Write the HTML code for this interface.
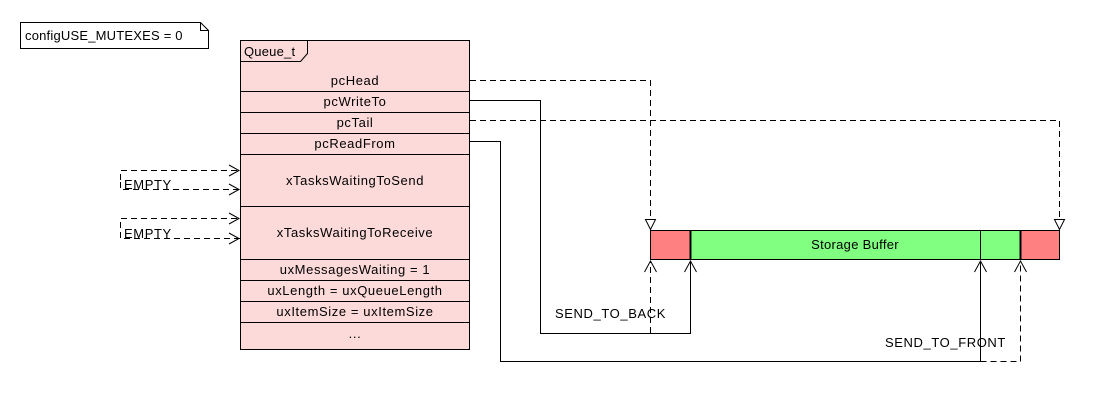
<!DOCTYPE html>
<html><head><style>
body{margin:0;background:#fff}
svg text{font-family:"Liberation Sans",sans-serif;font-size:13px;letter-spacing:0.6px;fill:#000}
</style></head><body>
<svg width="1100" height="400" xmlns="http://www.w3.org/2000/svg">
<rect width="1100" height="400" fill="#fff"/>
<path d="M20.5 22.5 H200.5 L208.5 30.5 V48.5 H20.5 Z" fill="#fff" stroke="#000"/>
<path d="M200.5 22.5 V30.5 H208.5" fill="none" stroke="#000"/>
<text x="25" y="40" style="letter-spacing:0.2px">configUSE_MUTEXES = 0</text>
<rect x="240.5" y="40.5" width="229" height="309" fill="#fddada" stroke="#000"/>
<path d="M240.5 61.5 H300.5 L307.5 53.5 V40.5" fill="none" stroke="#000"/>
<text x="244" y="56" style="letter-spacing:0.2px">Queue_t</text>
<g stroke="#000">
<line x1="240" y1="91.5" x2="470" y2="91.5"/>
<line x1="240" y1="112.5" x2="470" y2="112.5"/>
<line x1="240" y1="133.5" x2="470" y2="133.5"/>
<line x1="240" y1="154.5" x2="470" y2="154.5"/>
<line x1="240" y1="206.5" x2="470" y2="206.5"/>
<line x1="240" y1="259.5" x2="470" y2="259.5"/>
<line x1="240" y1="280.5" x2="470" y2="280.5"/>
<line x1="240" y1="301.5" x2="470" y2="301.5"/>
<line x1="240" y1="322.5" x2="470" y2="322.5"/>
</g>
<g text-anchor="middle" style="letter-spacing:0.3px">
<text x="355" y="85">pcHead</text>
<text x="355" y="106">pcWriteTo</text>
<text x="355" y="127">pcTail</text>
<text x="355" y="148">pcReadFrom</text>
<text x="355" y="185">xTasksWaitingToSend</text>
<text x="355" y="237">xTasksWaitingToReceive</text>
<text x="355" y="274">uxMessagesWaiting = 1</text>
<text x="355" y="295">uxLength = uxQueueLength</text>
<text x="355" y="316">uxItemSize = uxItemSize</text>
<text x="355" y="338">...</text>
</g>
<rect x="650.5" y="230.5" width="40" height="29" fill="#ff8080" stroke="#000"/>
<rect x="690.5" y="230.5" width="330" height="29" fill="#80ff80" stroke="#000"/>
<rect x="1020.5" y="230.5" width="39" height="29" fill="#ff8080" stroke="#000"/>
<line x1="690.5" y1="230" x2="690.5" y2="260" stroke="#000" stroke-width="2"/>
<line x1="1020.5" y1="230" x2="1020.5" y2="260" stroke="#000" stroke-width="2"/>
<line x1="980.5" y1="230" x2="980.5" y2="260" stroke="#000"/>
<text x="855" y="249" text-anchor="middle" style="letter-spacing:0.3px">Storage Buffer</text>
<g fill="none" stroke="#000">
<path d="M470 80.5 H650.5 V220" stroke-dasharray="6,4"/>
<path d="M645.5 219.5 L650.5 229.5 L655.5 219.5 Z" fill="#fff"/>
<path d="M470 120.5 H1059.5 V220" stroke-dasharray="6,4"/>
<path d="M1054.5 219.5 L1059.5 229.5 L1064.5 219.5 Z" fill="#fff"/>
<path d="M470 100.5 H540.5 V333.5 H690.5 V261"/>
<path d="M684.5 272 L690.5 261 L696.5 272"/>
<path d="M470 141.5 H500.5 V361.5 H980.5 V261"/>
<path d="M974.5 272 L980.5 261 L986.5 272"/>
<path d="M650.5 333 V261" stroke-dasharray="6,4"/>
<path d="M644.5 272 L650.5 261 L656.5 272"/>
<path d="M980.5 361.5 H1020.5 V261" stroke-dasharray="6,4"/>
<path d="M1014.5 272 L1020.5 261 L1026.5 272"/>
<path d="M120.5 180 V170.5 H240" stroke-dasharray="6,4"/>
<path d="M120.5 182 V189.5 H240" stroke-dasharray="6,4"/>
<path d="M229 165 L239 170.5 L229 176"/>
<path d="M229 184 L239 189.5 L229 195"/>
<path d="M120.5 228 V218.5 H240" stroke-dasharray="6,4"/>
<path d="M120.5 232 V238.5 H240" stroke-dasharray="6,4"/>
<path d="M229 213 L239 218.5 L229 224"/>
<path d="M229 233 L239 238.5 L229 244"/>
</g>
<text x="124" y="189">EMPTY</text>
<text x="124" y="238">EMPTY</text>
<text x="555" y="318">SEND_TO_BACK</text>
<text x="885" y="347">SEND_TO_FRONT</text>
</svg>
</body></html>
